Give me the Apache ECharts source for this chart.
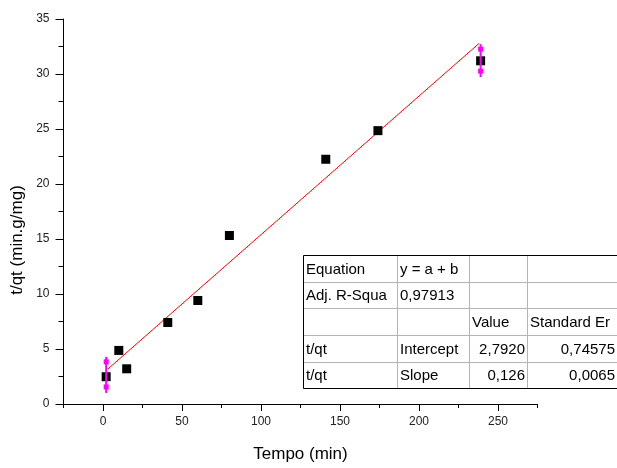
<!DOCTYPE html>
<html>
<head>
<meta charset="utf-8">
<script src="https://cdn.jsdelivr.net/npm/echarts@6/dist/echarts.min.js"></script>
<style>
html,body{margin:0;padding:0;background:#fff;}
#chart{width:617px;height:468px;}
</style>
</head>
<body>
<div id="chart"></div>
<script>
// ---- data ----
const tempo = [2, 10, 15, 41, 60, 80, 141, 174, 239];
const tqt = [2.48, 4.87, 3.2, 7.41, 9.41, 15.32, 22.25, 24.85, 31.2];
const fitX = [3, 238];
const fitY = [3.17, 32.78];
const errX = [2, 239];
const errLow = [1.55, 30.26];
const errHigh = [3.83, 32.26];
const xMajorTicks = [0, 50, 100, 150, 200, 250];
const xMinorTicks = [-25, 25, 75, 125, 175, 225, 275];
const xTitle = 'Tempo (min)';
const yTitle = 't/qt (min.g/mg)';
const tableRows = [
  ['Equation', 'y = a + b', '', ''],
  ['Adj. R-Squa', '0,97913', '', ''],
  ['', '', 'Value', 'Standard Er'],
  ['t/qt', 'Intercept', '2,7920', '0,74575'],
  ['t/qt', 'Slope', '0,126', '0,0065']
];

const FONT = '"Liberation Sans", Arial, sans-serif';
const chart = echarts.init(document.getElementById('chart'), null, {renderer: 'canvas'});

// table graphic
const colX = [303, 397, 469, 527, 640];
const rowY = [255, 282, 308, 335, 362, 388];
const rightAlign = (r, c) => (r >= 3 && c >= 2);
const graphics = [];
for (let r = 0; r < tableRows.length; r++) {
  for (let c = 0; c < 4; c++) {
    graphics.push({
      type: 'rect',
      shape: {x: colX[c] + 0.5, y: rowY[r] + 0.5, width: colX[c + 1] - colX[c], height: rowY[r + 1] - rowY[r]},
      style: {fill: '#fff', stroke: '#b4b4b4', lineWidth: 1},
      z: 10
    });
    const txt = tableRows[r][c];
    if (txt) {
      const ra = rightAlign(r, c);
      graphics.push({
        type: 'text',
        x: ra ? Math.min(colX[c + 1], 617) - 2 : colX[c] + 3,
        y: (rowY[r] + rowY[r + 1]) / 2 + 1,
        style: {text: txt, font: '15px ' + FONT, fill: '#000', align: ra ? 'right' : 'left', verticalAlign: 'middle'},
        z: 11
      });
    }
  }
}
graphics.push({
  type: 'rect',
  shape: {x: colX[0] + 0.5, y: rowY[0] + 0.5, width: colX[4] - colX[0], height: rowY[5] - rowY[0]},
  style: {fill: 'none', stroke: '#000', lineWidth: 1},
  z: 12
});
// y axis title
graphics.push({
  type: 'text',
  x: 17, y: 240,
  rotation: Math.PI / 2,
  style: {text: yTitle, font: '17px ' + FONT, fill: '#000', align: 'center', verticalAlign: 'middle'},
  z: 5
});

const axisLabelStyle = {color: '#222', fontFamily: FONT, fontSize: 12};

chart.setOption({
  animation: false,
  backgroundColor: '#fff',
  grid: {left: 63.5, top: 19, right: 79.5, bottom: 58, containLabel: false},
  xAxis: [{
    type: 'value', min: -25, max: 275, position: 'bottom',
    name: xTitle, nameLocation: 'middle', nameGap: 42,
    nameTextStyle: {color: '#000', fontFamily: FONT, fontSize: 17},
    axisLine: {show: true, onZero: false, lineStyle: {color: '#000', width: 1}},
    axisTick: {show: true, length: 7, lineStyle: {color: '#000'}, customValues: xMajorTicks},
    axisLabel: {show: true, margin: 12, customValues: xMajorTicks, ...axisLabelStyle},
    splitLine: {show: false}
  }, {
    type: 'value', min: -25, max: 275, position: 'bottom', offset: 0,
    axisLine: {show: false, onZero: false},
    axisTick: {show: true, length: 4, lineStyle: {color: '#000'}, customValues: xMinorTicks},
    axisLabel: {show: false},
    splitLine: {show: false}
  }],
  yAxis: {
    type: 'value', min: 0, max: 35, interval: 5,
    axisLine: {show: true, onZero: false, lineStyle: {color: '#000', width: 1}},
    axisTick: {show: true, length: 8, lineStyle: {color: '#000'}},
    minorTick: {show: true, splitNumber: 2, length: 5, lineStyle: {color: '#000'}},
    axisLabel: {margin: 14, ...axisLabelStyle},
    splitLine: {show: false}
  },
  graphic: graphics,
  series: [{
    type: 'line',
    data: fitX.map((x, i) => [x, fitY[i]]),
    showSymbol: false,
    lineStyle: {color: '#ff0000', width: 1},
    z: 2
  }, {
    type: 'scatter',
    data: tempo.map((x, i) => [x, tqt[i]]),
    symbol: 'rect', symbolSize: 9,
    itemStyle: {color: '#000', opacity: 1},
    z: 3
  }, {
    type: 'custom',
    data: errX.map((x, i) => [x, errLow[i], errHigh[i]]),
    renderItem: function (params, api) {
      const lo = api.coord([api.value(0), api.value(1)]);
      const hi = api.coord([api.value(0), api.value(2)]);
      const s = 5;
      return {
        type: 'group',
        children: [
          {type: 'line', shape: {x1: lo[0], y1: lo[1] + 6, x2: hi[0], y2: hi[1] - 5}, style: {stroke: '#ff00ff', lineWidth: 2}},
          {type: 'rect', shape: {x: lo[0] - s / 2, y: lo[1] - s / 2, width: s, height: s}, style: {fill: '#ff00ff'}},
          {type: 'rect', shape: {x: hi[0] - s / 2, y: hi[1] - s / 2, width: s, height: s}, style: {fill: '#ff00ff'}}
        ]
      };
    },
    z: 4
  }]
});
</script>
</body>
</html>
